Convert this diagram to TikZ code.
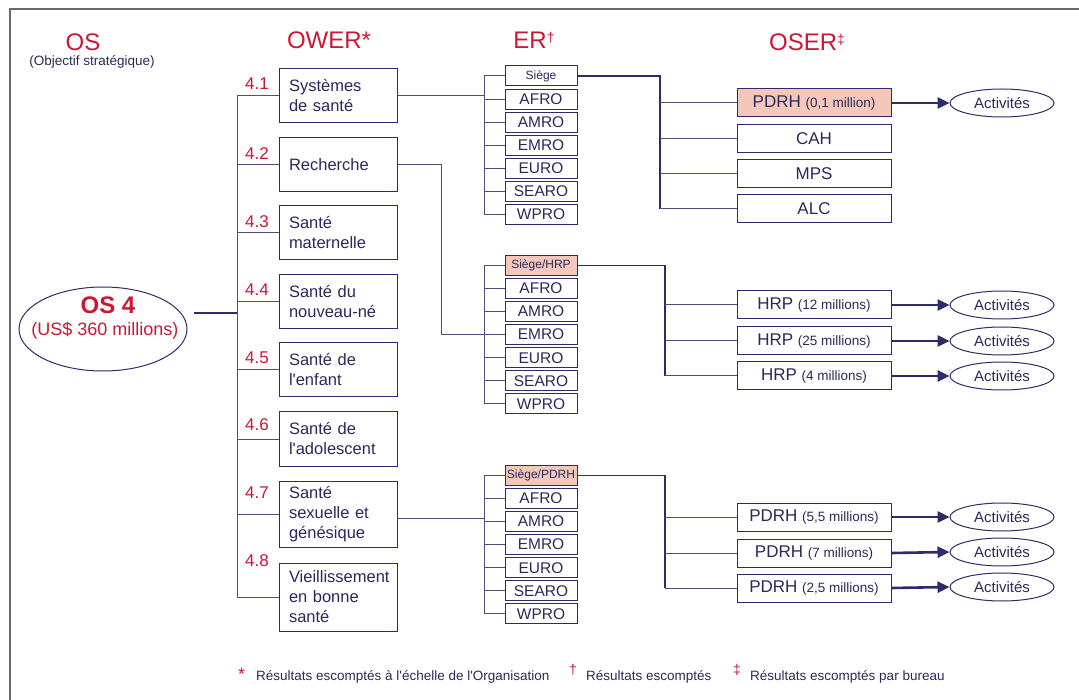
\documentclass[tikz,border=0pt]{standalone}
\usepackage{fontspec}
\setmainfont{Liberation Sans}
\usetikzlibrary{arrows.meta,shapes.geometric}
\definecolor{navy}{RGB}{45,43,105}
\definecolor{treec}{RGB}{80,78,125}
\definecolor{txt}{RGB}{43,41,92}
\definecolor{redc}{RGB}{204,22,52}
\definecolor{pinkc}{RGB}{243,200,186}
\definecolor{framec}{RGB}{105,105,105}
\newcommand\fs[2]{\fontsize{#1}{#2}\selectfont}
\newcommand\sm{\fs{13.5}{15}}
\newcommand\makeergroup[4]{%
  \node[erhead,fill=#4] (g#1b0) at (541,#2) {#3};
  \foreach \n [count=\i] in {AFRO,AMRO,EMRO,EURO,SEARO,WPRO}
    \node[erbox] (g#1b\i) at (541,#2+\i*23.05) {\n};
  \draw[tree] (g#1b0.west) -- ++(-20,0) |- (g#1b6.west);
  \foreach \i in {1,...,5}
    \draw[tree] (g#1b\i.west) -- ++(-20,0);
}
\begin{document}
\begin{tikzpicture}[x=1pt,y=-1pt,
  tree/.style={draw=treec,line width=1pt},
  mainline/.style={draw=navy,line width=1.7pt},
  arr/.style={draw=navy,line width=2.6pt,-{Triangle[length=12pt,width=11pt]}},
  owerbox/.style={draw=navy,line width=1pt,fill=white,text=txt,inner xsep=10pt,inner ysep=0pt,
    text width=98pt,align=left,font=\fs{16.5}{20}},
  num/.style={text=redc,font=\fs{17}{20},inner sep=0pt},
  erbox/.style={draw=navy,line width=1pt,fill=white,text=txt,minimum width=72pt,minimum height=20pt,
    inner sep=0pt,font=\fs{15.5}{16}},
  erhead/.style={erbox,font=\fs{12}{13}},
  oserbox/.style={draw=navy,line width=1pt,text=txt,minimum width=154pt,minimum height=28pt,
    inner sep=0pt,font=\fs{17}{20}},
  act/.style={ellipse,draw=navy,line width=1pt,text=txt,minimum width=104pt,minimum height=28pt,
    inner sep=0pt,font=\fs{15}{16}},
  title/.style={text=redc,font=\fs{24}{26},inner sep=0pt},
  foot/.style={text=txt,font=\fs{13.5}{15},inner sep=0pt,anchor=base west},
  footmark/.style={text=redc,inner sep=0pt,anchor=base west}
]
\useasboundingbox (0,0) rectangle (1079,700);
\draw[framec,line width=2pt] (10,700) -- (10,9) -- (1079,9);

% titles
\node[title] (tos) at (83,42) {OS};
\node[text=txt,font=\fs{13.5}{15},inner sep=0pt] (tossub) at (92,62) {(Objectif stratégique)};
\node[title] (tower) at (329,40) {OWER*};
\node[title] (ter) at (534,40) {ER\raisebox{6pt}{\fs{14}{15}†}};
\node[title] (toser) at (807,42) {OSER\raisebox{6pt}{\fs{14}{15}‡}};

% OS ellipse
\node[ellipse,draw=navy,line width=1pt,minimum width=168pt,minimum height=84pt,inner sep=0pt] (os) at (103,329) {};
\node[text=redc,font=\bfseries\fs{24}{26},inner sep=0pt] (osa) at (108,305) {OS 4};
\node[text=redc,font=\fs{18}{20},inner sep=0pt] (osb) at (105,331) {(US\$ 360 millions)};
\coordinate (osr) at (194,313);
\coordinate (tr) at (237,0);

% OWER boxes
\node[owerbox,minimum height=54pt] (o1) at (338,96) {Systèmes\\de santé};
\node[owerbox,minimum height=54pt] (o2) at (338,165) {Recherche};
\node[owerbox,minimum height=54pt] (o3) at (338,233) {Santé\\maternelle};
\node[owerbox,minimum height=54pt] (o4) at (338,302) {Santé du\\nouveau-né};
\node[owerbox,minimum height=54pt] (o5) at (338,370) {Santé de\\l\textquotesingle enfant};
\node[owerbox,minimum height=54pt] (o6) at (338,439) {Santé de\\l\textquotesingle adolescent};
\node[owerbox,minimum height=66pt] (o7) at (338,514) {Santé\\sexuelle et\\génésique};
\node[owerbox,minimum height=68pt] (o8) at (338,597) {Vieillissement\\en bonne\\santé};

\node[num] (n1) at (257,84) {4.1};
\node[num] (n2) at (257,154) {4.2};
\node[num] (n3) at (257,222) {4.3};
\node[num] (n4) at (257,290) {4.4};
\node[num] (n5) at (257,358) {4.5};
\node[num] (n6) at (257,425) {4.6};
\node[num] (n7) at (257,493) {4.7};
\node[num] (n8) at (257,561) {4.8};

% trunk
\draw[tree,line width=1.3pt,draw=navy] (osr) -- (osr -| tr);
\draw[tree] (o1.west) -- (o1.west -| tr) |- (o8.west);
\foreach \k in {2,...,7} \draw[tree] (o\k.west) -- (o\k.west -| tr);

% ER groups
\makeergroup{1}{76}{Siège}{white}
\makeergroup{2}{265.5}{Siège/HRP}{pinkc}
\makeergroup{3}{475.5}{Siège/PDRH}{pinkc}

\coordinate (sp) at (485,0);
\draw[tree] (o1.east) -- (o1.east -| sp);
\draw[tree] (o2.east) -- ++(44,0) |- (g2b3.west);
\draw[tree] ([yshift=-4pt]o7.east) -- ([yshift=-4pt]o7.east -| sp);

% OSER group 1
\node[oserbox,fill=pinkc] (s1) at (814,103) {PDRH {\sm (0,1 million)}};
\node[oserbox,fill=white] (s2) at (814,139) {CAH};
\node[oserbox,fill=white] (s3) at (814,174) {MPS};
\node[oserbox,fill=white] (s4) at (814,209) {ALC};
\coordinate (v1) at (660,0);
\draw[mainline] (g1b0.east) -| (v1 |- s4.west);
\foreach \k in {1,...,4} \draw[tree] (v1 |- s\k.west) -- (s\k.west);
\node[act] (a1) at (1002,103) {Activités};
\draw[arr] (s1.east) -- (a1.west);

% OSER group 2
\node[oserbox,fill=white] (h1) at (814,305) {HRP {\sm (12 millions)}};
\node[oserbox,fill=white] (h2) at (814,341) {HRP {\sm (25 millions)}};
\node[oserbox,fill=white] (h3) at (814,376) {HRP {\sm (4 millions)}};
\coordinate (v2) at (665,0);
\draw[mainline] (g2b0.east) -| (v2 |- h3.west);
\foreach \k in {1,...,3} \draw[tree] (v2 |- h\k.west) -- (h\k.west);
\node[act] (b1) at (1002,305) {Activités};
\node[act] (b2) at (1002,341) {Activités};
\node[act] (b3) at (1002,376) {Activités};
\foreach \k in {1,...,3} \draw[arr] (h\k.east) -- (b\k.west);

% OSER group 3
\node[oserbox,fill=white] (p1) at (814,517) {PDRH {\sm (5,5 millions)}};
\node[oserbox,fill=white] (p2) at (814,553) {PDRH {\sm (7 millions)}};
\node[oserbox,fill=white] (p3) at (814,588) {PDRH {\sm (2,5 millions)}};
\draw[mainline] (g3b0.east) -| (v2 |- p3.west);
\foreach \k in {1,...,3} \draw[tree] (v2 |- p\k.west) -- (p\k.west);
\node[act] (c1) at (1002,517) {Activités};
\node[act] (c2) at (1002,552) {Activités};
\node[act] (c3) at (1002,587) {Activités};
\foreach \k in {1,...,3} \draw[arr] (p\k.east) -- (c\k.west);

% footer
\node[footmark,font=\fs{18}{18}] (f1) at (238,680) {*};
\node[foot] (t1) at (256,680) {Résultats escomptés à l\textquotesingle échelle de l\textquotesingle Organisation};
\node[footmark,font=\fs{14}{14}] (f2) at (569,674) {†};
\node[foot] (t2) at (586,680) {Résultats escomptés};
\node[footmark,font=\fs{14}{14}] (f3) at (733,674) {‡};
\node[foot] (t3) at (750,680) {Résultats escomptés par bureau};
\end{tikzpicture}
\end{document}
